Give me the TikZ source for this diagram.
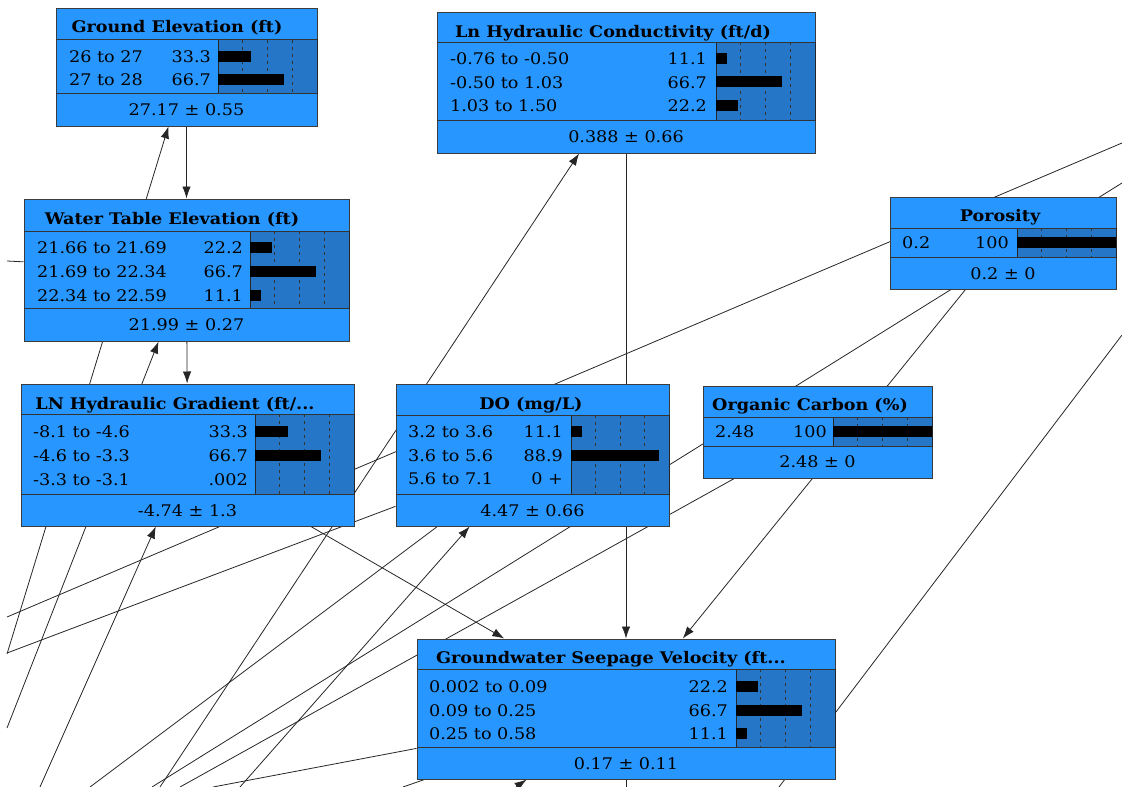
\documentclass[tikz,border=0pt]{standalone}
\usepackage{fontspec}
\setmainfont[FakeStretch=1.1]{DejaVu Serif}
\usetikzlibrary{arrows.meta,fit,backgrounds}

\definecolor{nodeblue}{RGB}{40,150,255}
\definecolor{barblue}{RGB}{38,118,200}
\definecolor{rimgray}{RGB}{60,60,60}

\tikzset{
  bnbox/.style={rectangle, fill=nodeblue, draw=rimgray, line width=1pt, inner sep=0pt},
  bnbg/.style={fill=barblue, draw=black!85, line width=0.8pt},
  bnsep/.style={draw=black!80, line width=0.8pt},
  bndots/.style={draw=black!80, line width=1pt, dash pattern=on 3pt off 4pt},
  bnbar/.style={fill=black},
  bntitle/.style={font=\fontsize{16}{19}\selectfont\bfseries, inner sep=0pt, text depth=0pt},
  bnlab/.style={anchor=west, inner sep=0pt, text depth=0pt},
  bnval/.style={anchor=east, inner sep=0pt, text depth=0pt},
  bnmean/.style={inner sep=0pt, text depth=0pt},
  link/.style={->, >={Latex[length=12pt,width=8.5pt]}, draw=black!85, line width=0.8pt},
  wire/.style={draw=black!85, line width=0.8pt}
}

% frame of a belief box: name, top left, bottom right, title rule, mean rule, bar left
\newcommand{\bnframe}[8]{%
  \node[bnbox, fit={(#2,#3) (#4,#5)}] (#1) {};
  \draw[bnbg] (#8,#6) rectangle (#4,#7);
  \foreach \q in {1,2,3}
    \draw[bndots] ({#8+(#4-#8)*\q/4},#6) -- ({#8+(#4-#8)*\q/4},#7);
  \draw[bnsep] (#2,#6) -- (#4,#6) (#2,#7) -- (#4,#7);
}
% one state row: name, y, label x, label, value x, value, bar left, percent
\newcommand{\bnrow}[8]{%
  \node[bnlab] (#1-l) at (#3,#2) {#4};
  \node[bnval] (#1-v) at (#5,#2) {#6};
  \fill[bnbar] (#7,{#2-6.5}) rectangle ({#7+0.99*#8},{#2+4.5});
}

\begin{document}
\begin{tikzpicture}[x=1pt,y=-1pt,font=\fontsize{16}{19}\selectfont]
\useasboundingbox (0,0) rectangle (1122,787);

% Ground Elevation
\bnframe{GE}{56}{8}{317}{126}{39.5}{93}{218}
\node[bntitle] (GE-t) at (177,26) {Ground Elevation (ft)};
\bnrow{GE-1}{57}{69}{26 to 27}{211}{33.3}{218}{33.3}
\bnrow{GE-2}{80}{69}{27 to 28}{211}{66.7}{218}{66.7}
\node[bnmean] (GE-m) at (186.5,110) {27.17 ± 0.55};

% Ln Hydraulic Conductivity
\bnframe{KC}{437}{12}{815}{153}{42}{120}{716}
\node[bntitle] (KC-t) at (613,31) {Ln Hydraulic Conductivity (ft/d)};
\bnrow{KC-1}{59}{450}{-0.76 to -0.50}{707}{11.1}{716}{11.1}
\bnrow{KC-2}{82.5}{450}{-0.50 to 1.03}{707}{66.7}{716}{66.7}
\bnrow{KC-3}{106}{450}{1.03 to 1.50}{707}{22.2}{716}{22.2}
\node[bnmean] (KC-m) at (626,137) {0.388 ± 0.66};

% Water Table Elevation
\bnframe{WT}{24}{199}{349}{341}{231}{308}{250}
\node[bntitle] (WT-t) at (172,218) {Water Table Elevation (ft)};
\bnrow{WT-1}{248}{37}{21.66 to 21.69}{243}{22.2}{250}{22.2}
\bnrow{WT-2}{272}{37}{21.69 to 22.34}{243}{66.7}{250}{66.7}
\bnrow{WT-3}{296}{37}{22.34 to 22.59}{243}{11.1}{250}{11.1}
\node[bnmean] (WT-m) at (186.5,325) {21.99 ± 0.27};

% LN Hydraulic Gradient
\bnframe{HG}{21}{384}{354}{526}{414}{494}{255}
\node[bntitle] (HG-t) at (175,403) {LN Hydraulic Gradient (ft/...};
\bnrow{HG-1}{432}{33}{-8.1 to -4.6}{248}{33.3}{255}{33.3}
\bnrow{HG-2}{456}{33}{-4.6 to -3.3}{248}{66.7}{255}{66.7}
\bnrow{HG-3}{480}{33}{-3.3 to -3.1}{248}{.002}{255}{0.002}
\node[bnmean] (HG-m) at (187.5,511) {-4.74 ± 1.3};

% DO
\bnframe{DO}{396}{384}{669}{526}{415}{494}{571}
\node[bntitle] (DO-t) at (531,403) {DO (mg/L)};
\bnrow{DO-1}{432}{408}{3.2 to 3.6}{563}{11.1}{571}{11.1}
\bnrow{DO-2}{456}{408}{3.6 to 5.6}{563}{88.9}{571}{88.9}
\bnrow{DO-3}{479}{408}{5.6 to 7.1}{563}{0 +}{571}{0}
\node[bnmean] (DO-m) at (532.5,511) {4.47 ± 0.66};

% Porosity
\bnframe{Por}{890}{197}{1116}{289}{228}{257}{1017}
\node[bntitle] (Por-t) at (1000,215) {Porosity};
\bnrow{Por-1}{243}{902}{0.2}{1009}{100}{1017}{100}
\node[bnmean] (Por-m) at (1003,274) {0.2 ± 0};

% Organic Carbon
\bnframe{OC}{703}{386}{932}{478}{417}{446}{833}
\node[bntitle] (OC-t) at (810,404) {Organic Carbon (\%)};
\bnrow{OC-1}{432}{715}{2.48}{827}{100}{833}{100}
\node[bnmean] (OC-m) at (817.5,462) {2.48 ± 0};

% Groundwater Seepage Velocity
\bnframe{GSV}{417}{639}{835}{779}{669}{747}{736}
\node[bntitle] (GSV-t) at (611,657) {Groundwater Seepage Velocity (ft...};
\bnrow{GSV-1}{687}{429}{0.002 to 0.09}{728}{22.2}{736}{22.2}
\bnrow{GSV-2}{711}{429}{0.09 to 0.25}{728}{66.7}{736}{66.7}
\bnrow{GSV-3}{734}{429}{0.25 to 0.58}{728}{11.1}{736}{11.1}
\node[bnmean] (GSV-m) at (626,764) {0.17 ± 0.11};

% links, behind the boxes
\begin{pgfonlayer}{background}
\coordinate (pGE) at (7,654);
\coordinate (pWT) at (7,728);
\coordinate (pHG) at (40,787);
\coordinate (pDO) at (240,787);
\coordinate (pKC) at (160,787);
\coordinate (qWT) at (7,261);
\coordinate (qOC) at (180,787);
\coordinate (qDO) at (90,787);
\coordinate (qDO2) at (7,653);
\coordinate (qGSV1) at (213,787);
\coordinate (qGSV2) at (403,787);
\coordinate (qGSV3) at (626,787);
\coordinate (pGSV) at (516,787);
\coordinate (a1) at (1122,143);
\coordinate (a2) at (7,617);
\coordinate (b1) at (1122,183);
\coordinate (b2) at (152,787);
\coordinate (c1) at (1122,335);
\coordinate (c2) at (779,787);

\draw[link] (GE) -- (WT);
\draw[link] (WT) -- (HG);
\draw[link] (KC) -- (GSV);
\draw[link] (HG) -- (GSV);
\draw[link] (Por) -- (GSV);
\draw[link] (pGE) -- (GE);
\draw[link] (pWT) -- (WT);
\draw[link] (pHG) -- (HG);
\draw[link] (pDO) -- (DO);
\draw[link] (pKC) -- (KC);
\draw[link] (pGSV) -- (GSV);
\draw[wire] (WT) -- (qWT);
\draw[wire] (OC) -- (qOC);
\draw[wire] (DO) -- (qDO);
\draw[wire] (DO) -- (qDO2);
\draw[wire] (GSV) -- (qGSV1);
\draw[wire] (GSV) -- (qGSV2);
\draw[wire] (GSV) -- (qGSV3);
\draw[wire] (a1) -- (a2);
\draw[wire] (b1) -- (b2);
\draw[wire] (c1) -- (c2);
\end{pgfonlayer}
\end{tikzpicture}
\end{document}
